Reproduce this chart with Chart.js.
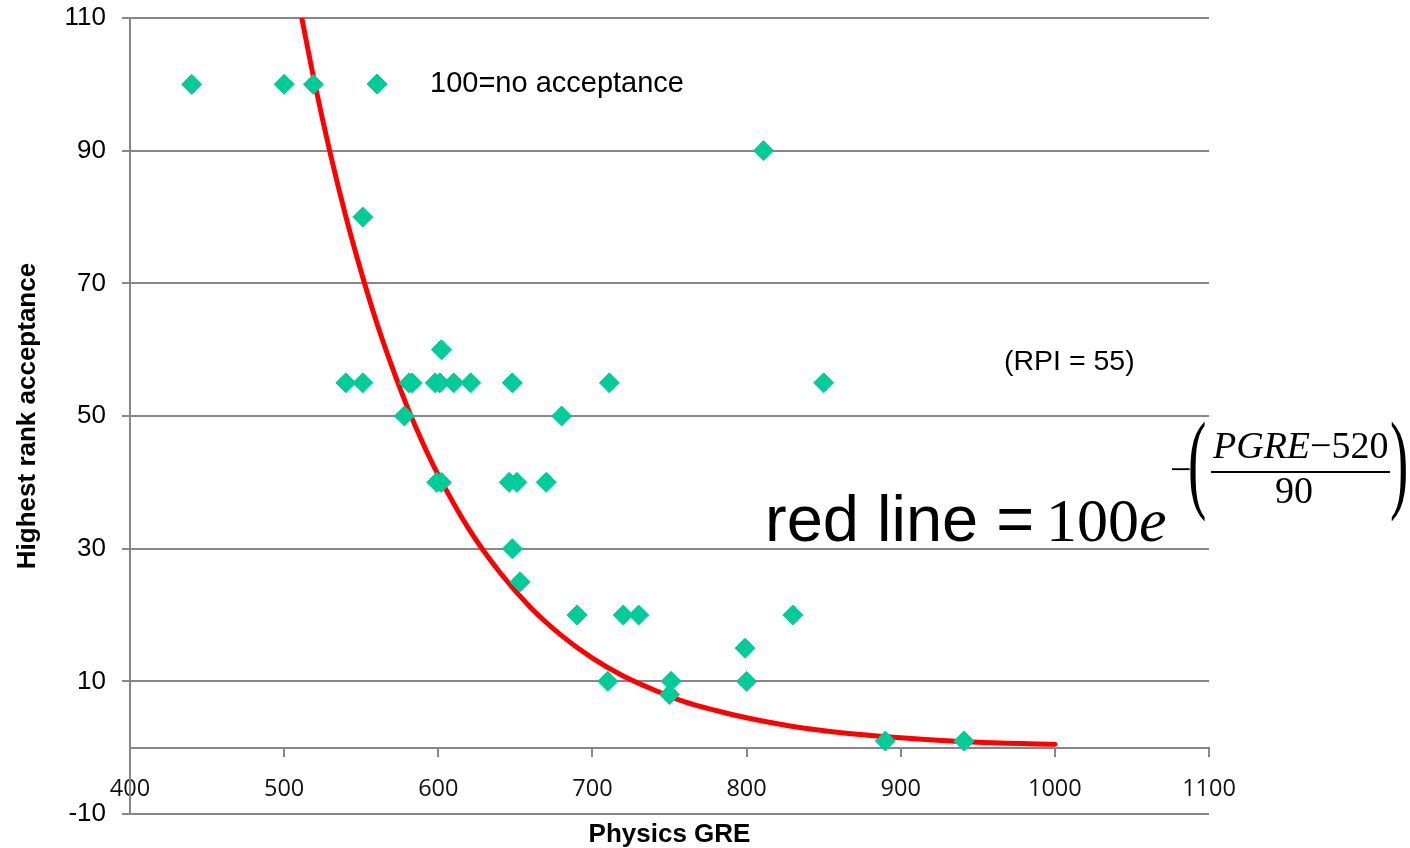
<!DOCTYPE html>
<html>
<head>
<meta charset="utf-8">
<script src="https://cdn.jsdelivr.net/npm/chart.js@4/dist/chart.umd.min.js"></script>
<style>
html,body{margin:0;padding:0;background:#ffffff;}
canvas{display:block;}
</style>
</head>
<body>
<canvas id="c" width="1410" height="848"></canvas>
<script>
// ---- data ----
const greScores = [440,500,519,551,540,551,578,581,583,598,601,602,610,621,599,602,648,646,651,648,653,670,680,690,711,710,720,730,751,750,811,799,800,830,850,890,941];
const rankValues = [100,100,100,80,55,55,50,55,55,55,55,60,55,55,40,40,55,40,40,30,25,40,50,20,55,10,20,20,10,8,90,15,10,20,55,1,1];
const curveGre  = [510,520,530,540,550,560,570,580,590,600,620,640,660,680,700,720,740,760,780,800,830,860,900,950,1000];
const curveRank = [111.7,100,89.5,80.1,71.7,64.1,57.4,51.3,45.9,41.1,32.9,26.4,21.1,16.9,13.5,10.8,8.7,6.9,5.6,4.5,3.2,2.3,1.5,0.8,0.5];
const seriesName = '100=no acceptance';
const curveName = 'red line';
const xAxisTitle = 'Physics GRE';
const yAxisTitle = 'Highest rank acceptance';
const rpiNote = '(RPI = 55)';
const xRange = [400, 1100, 100];
const yRange = [-10, 110, 20];

const markerColor = '#00CC99';
const gridColor = '#878787';
const SANS = '"Liberation Sans", Arial, sans-serif';
const SERIF = '"Liberation Serif", "Times New Roman", serif';

function diamond(ctx, x, y, r) {
  ctx.beginPath();
  ctx.moveTo(x - r, y);
  ctx.lineTo(x, y - r);
  ctx.lineTo(x + r, y);
  ctx.lineTo(x, y + r);
  ctx.closePath();
  ctx.fillStyle = markerColor;
  ctx.fill();
  ctx.strokeStyle = markerColor;
  ctx.lineWidth = 1;
  ctx.stroke();
}

const notes = {
  id: 'notes',
  afterDraw(chart) {
    const ctx = chart.ctx;
    ctx.save();
    ctx.textAlign = 'left';
    ctx.textBaseline = 'alphabetic';

    // legend entry
    diamond(ctx, 377, 84, 10);
    ctx.fillStyle = '#000';
    ctx.font = '29px ' + SANS;
    ctx.fillText(seriesName, 430, 92);

    // RPI note
    ctx.font = '28.5px ' + SANS;
    ctx.fillText(rpiNote, 1004, 370);

    // formula: red line = 100e^-((PGRE-520)/90)
    ctx.font = '65px ' + SANS;
    ctx.fillText(curveName + ' =', 765, 541);
    ctx.font = '62px ' + SERIF;
    ctx.fillText('100', 1046, 541);
    const w100 = ctx.measureText('100').width;
    ctx.font = 'italic 62px ' + SERIF;
    ctx.fillText('e', 1046 + w100, 541);

    // exponent
    ctx.font = '38px ' + SERIF;
    ctx.fillText('\u2212', 1170, 482);
    // big parens
    ctx.save();
    ctx.translate(1188, 498);
    ctx.scale(0.5, 1);
    ctx.font = '110px ' + SERIF;
    ctx.fillText('(', 0, 0);
    ctx.restore();
    ctx.save();
    ctx.translate(1390, 498);
    ctx.scale(0.5, 1);
    ctx.font = '110px ' + SERIF;
    ctx.fillText(')', 0, 0);
    ctx.restore();
    // numerator
    let nx = 1213;
    ctx.font = 'italic 38px ' + SERIF;
    ctx.fillText('PGRE', nx, 458);
    nx += ctx.measureText('PGRE').width;
    ctx.font = '38px ' + SERIF;
    ctx.fillText('\u2212520', nx, 458);
    // fraction bar
    ctx.fillRect(1211, 471, 179, 2);
    // denominator
    ctx.textAlign = 'center';
    ctx.fillText('90', 1294, 503);
    ctx.restore();
  }
};

new Chart(document.getElementById('c'), {
  type: 'scatter',
  data: {
    datasets: [
      {
        label: seriesName,
        data: greScores.map((x, i) => ({x: x, y: rankValues[i]})),
        pointStyle: 'rectRot',
        pointRadius: 10,
        pointHoverRadius: 10,
        backgroundColor: markerColor,
        borderColor: markerColor,
        borderWidth: 1,
        showLine: false
      },
      {
        label: curveName,
        type: 'line',
        data: curveGre.map((x, i) => ({x: x, y: curveRank[i]})),
        borderColor: '#FF0000',
        borderWidth: 5,
        pointRadius: 0,
        pointHoverRadius: 0,
        cubicInterpolationMode: 'monotone',
        borderCapStyle: 'round',
        borderJoinStyle: 'round',
        fill: false
      }
    ]
  },
  options: {
    responsive: false,
    animation: false,
    devicePixelRatio: 1,
    events: [],
    layout: { padding: { left: 0, top: 18, right: 201, bottom: 0 } },
    plugins: {
      legend: { display: false },
      tooltip: { enabled: false },
      title: {
        display: true,
        text: xAxisTitle,
        position: 'bottom',
        fullSize: false,
        color: '#000',
        font: { family: SANS, size: 26, weight: 'bold', lineHeight: 1.0 },
        padding: { top: 8, bottom: 0 }
      }
    },
    scales: {
      x: {
        type: 'linear',
        position: { y: 0 },
        min: xRange[0],
        max: xRange[1],
        ticks: {
          stepSize: xRange[2],
          autoSkip: false,
          maxRotation: 0,
          padding: 20,
          color: '#111',
          font: { family: '"Open Sans", ' + SANS, size: 23.5 },
          callback: (v) => String(v)
        },
        grid: { display: true, drawOnChartArea: false, drawTicks: true, tickLength: 8, color: gridColor, lineWidth: 2 },
        border: { display: true, color: gridColor, width: 2 }
      },
      y: {
        type: 'linear',
        position: 'left',
        min: yRange[0],
        max: yRange[1],
        ticks: {
          stepSize: yRange[2],
          autoSkip: false,
          padding: 16,
          color: '#000',
          font: { family: SANS, size: 26 },
          callback: (v) => String(v)
        },
        grid: { display: true, drawOnChartArea: true, drawTicks: true, tickLength: 8, color: gridColor, lineWidth: 2 },
        border: { display: true, color: gridColor, width: 2 },
        title: {
          display: true,
          text: yAxisTitle,
          color: '#000',
          font: { family: SANS, size: 26, weight: 'bold', lineHeight: 1.2 },
          padding: { top: 12, bottom: 0 }
        },
        afterFit(scale) { scale.width = 130; scale.paddingTop = 0; scale.paddingBottom = 0; }
      }
    }
  },
  plugins: [notes]
});
</script>
</body>
</html>
